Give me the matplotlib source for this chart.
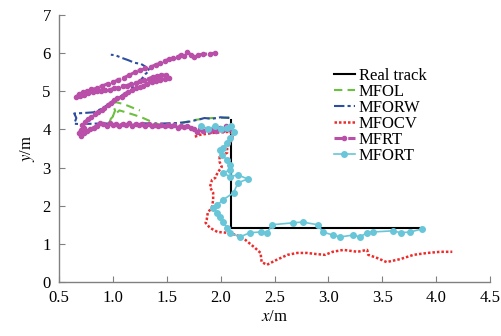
import numpy as np
import matplotlib
matplotlib.use('Agg')
import matplotlib.pyplot as plt

plt.rcParams['font.family'] = ['Liberation Serif', 'DejaVu Serif']
plt.rcParams['mathtext.fontset'] = 'stix'

# data (metres)
real_x = [2.1, 2.1, 3.86]
real_y = [4.25, 1.42, 1.42]

mfol_x = [2.08, 2.0, 1.92, 1.84, 1.76, 1.68, 1.6, 1.52, 1.44, 1.36, 1.28, 1.2, 1.12,
          1.06, 1.02, 0.98, 0.97, 1.0, 1.02, 1.0, 1.02, 1.08, 1.14, 1.2, 1.25]
mfol_y = [4.32, 4.3, 4.3, 4.28, 4.25, 4.2, 4.12, 4.08, 4.12, 4.2, 4.3, 4.38, 4.45,
          4.5, 4.4, 4.28, 4.2, 4.35, 4.5, 4.62, 4.72, 4.68, 4.62, 4.55, 4.5]

mforw_x = [2.08, 2.0, 1.92, 1.85, 1.78, 1.7, 1.6, 1.5, 1.4, 1.3, 1.2, 1.1, 1.0, 0.9,
           0.8, 0.7, 0.64, 0.66, 0.64, 0.72, 0.82, 0.9, 0.98, 1.06, 1.14, 1.2, 1.26,
           1.3, 1.34, 1.3, 1.26, 1.2, 1.14, 1.08, 1.02, 0.98]
mforw_y = [4.3, 4.32, 4.28, 4.3, 4.25, 4.2, 4.17, 4.16, 4.15, 4.16, 4.15, 4.14, 4.15,
           4.16, 4.15, 4.14, 4.15, 4.3, 4.42, 4.43, 4.45, 4.55, 4.7, 4.85, 5.0, 5.15,
           5.3, 5.45, 5.55, 5.65, 5.72, 5.75, 5.82, 5.88, 5.95, 5.96]

mfocv_x = [1.76, 1.81, 1.93, 2.09, 2.11, 2.09, 2.06, 2.06, 2.02, 1.99, 1.99, 2.01,
           1.97, 1.95, 1.92, 1.9, 1.93, 1.93, 1.92, 1.88, 1.87, 1.86, 1.9, 1.97, 2.06,
           2.15, 2.23, 2.32, 2.37, 2.38, 2.43, 2.52, 2.62, 2.71, 2.8, 2.89, 2.97, 3.04,
           3.14, 3.27, 3.36, 3.37, 3.45, 3.54, 3.67, 3.79, 3.92, 4.04, 4.15]
mfocv_y = [3.81, 3.86, 3.91, 3.94, 3.81, 3.65, 3.54, 3.39, 3.33, 3.28, 3.15, 3.02,
           2.86, 2.73, 2.68, 2.49, 2.34, 2.15, 1.97, 1.81, 1.63, 1.55, 1.42, 1.31, 1.29,
           1.23, 1.1, 0.89, 0.76, 0.52, 0.45, 0.58, 0.71, 0.76, 0.76, 0.73, 0.71, 0.79,
           0.84, 0.79, 0.84, 0.71, 0.63, 0.52, 0.6, 0.71, 0.76, 0.79, 0.79]

mfrt_x = [2.08, 2.05, 2.02, 1.99, 1.96, 1.93, 1.9, 1.87, 1.84, 1.81, 1.78, 1.75, 1.72,
          1.69, 1.66, 1.63, 1.6, 1.57, 1.54, 1.51, 1.48, 1.45, 1.42, 1.39, 1.36, 1.33,
          1.3, 1.27, 1.24, 1.21, 1.18, 1.15, 1.12, 1.09, 1.06, 1.03, 1.0, 0.97, 0.94,
          0.91, 0.88, 0.85, 0.82, 0.79, 0.76, 0.73, 0.7, 0.68, 0.7, 0.73, 0.71, 0.74,
          0.77, 0.8, 0.83, 0.86, 0.9, 0.92, 0.95, 0.98, 1.01, 1.04, 1.08, 1.11, 1.14,
          1.18, 1.21, 1.25, 1.28, 1.32, 1.36, 1.4, 1.44, 1.48, 1.52, 1.49, 1.45, 1.41,
          1.37, 1.33, 1.29, 1.25, 1.21, 1.17, 1.13, 1.09, 1.05, 1.01, 0.97, 0.93, 0.89,
          0.85, 0.81, 0.77, 0.73, 0.69, 0.66, 0.68, 0.72, 0.76, 0.8, 0.85, 0.9, 0.95,
          1.0, 1.05, 1.1, 1.15, 1.2, 1.25, 1.3, 1.35, 1.4, 1.44, 1.48, 1.52, 1.56, 1.6,
          1.63, 1.66, 1.69, 1.72, 1.75, 1.79, 1.84, 1.9, 1.95]
mfrt_y = [4.02, 4.08, 3.98, 4.04, 3.97, 4.02, 3.95, 4.0, 3.96, 4.02, 3.94, 4.0, 4.05,
          4.1, 4.06, 4.1, 4.05, 4.11, 4.08, 4.13, 4.09, 4.12, 4.08, 4.13, 4.1, 4.14,
          4.1, 4.15, 4.11, 4.14, 4.1, 4.16, 4.12, 4.15, 4.1, 4.14, 4.11, 4.16, 4.1,
          4.14, 4.18, 4.1, 4.05, 4.0, 3.95, 3.9, 3.84, 3.9, 3.98, 4.05, 4.12, 4.2,
          4.27, 4.33, 4.4, 4.45, 4.5, 4.57, 4.63, 4.7, 4.76, 4.82, 4.86, 4.93, 4.97,
          5.03, 5.08, 5.12, 5.15, 5.2, 5.24, 5.26, 5.3, 5.32, 5.36, 5.42, 5.44, 5.4,
          5.38, 5.33, 5.3, 5.26, 5.22, 5.2, 5.15, 5.14, 5.1, 5.08, 5.04, 5.03, 5.0,
          5.02, 4.97, 4.95, 4.9, 4.88, 4.84, 4.92, 4.97, 5.0, 5.05, 5.08, 5.14, 5.2,
          5.24, 5.3, 5.36, 5.42, 5.5, 5.55, 5.6, 5.64, 5.7, 5.74, 5.8, 5.84, 5.88, 5.9,
          5.96, 5.92, 6.04, 5.96, 5.9, 5.96, 5.97, 5.99, 6.0]

mfort_x = [1.82, 1.88, 1.95, 2.0, 2.06, 2.1, 2.12, 2.09, 2.06, 2.02, 1.99, 2.01, 2.06,
           2.09, 2.09, 2.02, 2.09, 2.16, 2.25, 2.16, 2.12, 2.02, 1.97, 1.93, 1.97, 1.99,
           2.02, 2.06, 2.09, 2.18, 2.27, 2.37, 2.43, 2.48, 2.67, 2.76, 2.9, 2.95, 3.04,
           3.11, 3.23, 3.29, 3.36, 3.41, 3.6, 3.67, 3.76, 3.87]
mfort_y = [4.1, 4.02, 4.08, 4.0, 4.05, 4.1, 3.94, 3.78, 3.65, 3.52, 3.46, 3.33, 3.2,
           3.07, 2.94, 2.86, 2.76, 2.81, 2.7, 2.6, 2.34, 2.15, 2.02, 1.94, 1.81, 1.71,
           1.57, 1.42, 1.29, 1.18, 1.29, 1.31, 1.29, 1.5, 1.55, 1.57, 1.5, 1.31, 1.23,
           1.18, 1.23, 1.18, 1.29, 1.31, 1.34, 1.29, 1.31, 1.39]

fig = plt.figure(figsize=(5.01, 3.36), dpi=100)
ax = fig.add_axes([0.118, 0.161, 0.86, 0.794])

ax.plot(real_x, real_y, color='black', lw=1.5, label='Real track')
ax.plot(mfol_x, mfol_y, color='#6cc040', lw=1.5, ls=(0, (4, 2.5)), label='MFOL')
ax.plot(mforw_x, mforw_y, color='#2d4ea0', lw=1.5, ls=(0, (5, 1.5, 1.5, 1.5)), label='MFORW')
ax.plot(mfocv_x, mfocv_y, color='#ee2a2a', lw=1.8, ls=(0, (1, 0.8)), label='MFOCV')
ax.plot(mfrt_x, mfrt_y, color='#b94fa8', lw=2.2, ls=(0, (3, 1.5)), marker='o', ms=3,
        label='MFRT')
ax.plot(mfort_x, mfort_y, color='#68c6d8', lw=1.2, marker='o', ms=4, label='MFORT')

ax.set_xlim(0.5, 4.5)
ax.set_ylim(0, 7)
ax.set_xticks(np.arange(0.5, 4.51, 0.5))
ax.set_xticklabels(['0.5', '1.0', '1.5', '2.0', '2.5', '3.0', '3.5', '4.0', '4.5'])
ax.set_yticks(range(0, 8))

for s in ['top', 'right']:
    ax.spines[s].set_visible(False)
for s in ['left', 'bottom']:
    ax.spines[s].set_color('#808080')
    ax.spines[s].set_linewidth(1)
ax.tick_params(direction='in', length=4, color='#808080', labelsize=12, pad=6)

ax.set_xlabel('$x$/m', fontsize=12, labelpad=2)
ax.set_ylabel('$y$/m', fontsize=12, labelpad=4)

ax.legend(loc='upper left', bbox_to_anchor=(0.61, 0.845), frameon=False, fontsize=12,
          handlelength=1.3, handletextpad=0.2, labelspacing=0.0, borderpad=0.2)

fig.savefig('out.png', dpi=100)
